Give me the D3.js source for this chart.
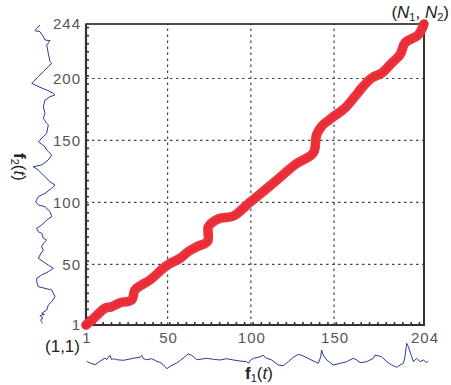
<!DOCTYPE html>
<html><head><meta charset="utf-8">
<script src="https://cdn.jsdelivr.net/npm/d3@7/dist/d3.min.js"></script>
<style>body{margin:0;background:#fff}svg{display:block}</style>
</head><body><svg id="c" width="451" height="385"></svg>
<script>
// Tick labels
const xTicks = [1, 50, 100, 150, 204];
const yTicks = [1, 50, 100, 150, 200, 244];
const xGrid = [50, 100, 150];
const yGrid = [50, 100, 150, 200];
// Warping path (i, j)
const warpPath = [[1,1],[5,5.5],[12.4,14.5],[16.4,15.8],[21.4,19],[28.4,21.2],[30.4,29.3],[34.4,33.3],[39.4,37.3],[47.4,46.8],[51.5,50.8],[57.5,54.8],[62.4,60.2],[67.5,64.2],[74,68.5],[74.5,80.4],[77.5,84.4],[81.5,87.1],[89.5,89],[99,99.6],[102.5,103.3],[108.5,110],[116.5,119],[126.5,130.4],[137.5,139.9],[139.5,154.6],[142.5,161.4],[148.5,168.1],[156.6,176.2],[162.6,185.6],[166.6,192.3],[172.6,200.4],[178.6,204.4],[184.6,212.5],[189.6,219.2],[192.6,228.7],[200.6,235.4],[204,244]];
// Signal f1(t): [t, value]
const f1 = [[1.4,0.14],[3.4,-0.2],[6.4,-0.54],[9.4,0.14],[12.4,0.8],[13.4,0.46],[15.4,1.34],[16.4,0.46],[17.4,0.66],[19.4,0.46],[23.4,0.34],[27.4,0.6],[30.4,0.8],[33.4,0.94],[34.5,1.34],[35.4,0.66],[37.5,0.46],[40.5,0.66],[43.5,0.14],[45.4,-0.06],[47.4,-0.54],[49.5,-1.34],[51.5,-0.86],[55.5,-0.2],[59.4,0.8],[62.4,1.6],[64.5,1.34],[67.5,0.46],[69.5,0.54],[73.5,0.74],[77.5,0.54],[81.5,0.4],[85.5,0.66],[89.5,0.4],[93.5,0.2],[97.5,0.06],[98.5,-0.26],[99.5,0.26],[101.5,0.74],[104.5,0.94],[107.5,1.34],[109.5,0.74],[112.5,0.4],[116.5,-0.6],[119.5,-0.74],[122.5,0.06],[125.5,0.94],[128.5,1.54],[131.5,1.2],[135.5,0.54],[138.5,0.06],[140.5,-0.26],[142,1.06],[142.5,2.4],[143.5,1.4],[145.6,0.4],[149.5,-0.6],[153.6,-0.26],[157.6,0.06],[161.5,0.74],[163.6,0.4],[165.6,-0.14],[169.6,0.06],[173.6,0.74],[174.6,1.4],[176.6,1.2],[178.6,1.06],[181.6,0.06],[184.6,-0.6],[187.6,-1.06],[189.6,-0.6],[191.6,-0.26],[192.6,1.06],[193.6,3.74],[194.6,3.06],[196.6,1.06],[197.6,0.06],[199.6,0.74],[201.6,0.06],[203.6,0.4],[205.6,-0.14],[206.6,0.2]];
// Signal f2(t): [t, value]
const f2 = [[243.2,-0.8],[240.5,-1.46],[238.6,-1.8],[237.8,-0.8],[233.7,-0.14],[231.1,0.2],[230.5,1.2],[227,0.54],[220.3,0.86],[213.6,1.2],[212.3,1.54],[209.5,0.86],[205.5,-0.14],[201.5,-1.14],[197.4,-2.14],[196.1,-2.46],[194.8,-1.8],[192.9,-0.8],[190.7,0.54],[188.1,1.86],[186.7,2.2],[185.3,1.2],[182.6,0.2],[177.2,-0.14],[171.9,0.2],[167.9,-0.14],[163.8,0.54],[162.5,0.86],[155.8,0.54],[149,-1.14],[144.9,0.2],[142.3,0.54],[138.2,1.54],[134.2,0.86],[130.2,-0.46],[128.8,-2.14],[126.1,-1.14],[120.7,0.2],[116.7,1.2],[114,2.2],[111.4,1.54],[107.3,0.2],[104.6,-1.14],[100.5,-1.66],[97.9,-1.14],[96.5,0.2],[92.5,1.2],[88.4,1.54],[85.8,0.54],[81.7,-0.46],[79.1,-1.46],[76.3,-1.14],[75,-0.46],[71,-0.14],[69.6,0.54],[67,-0.14],[64.2,-0.46],[61.5,-0.14],[57.5,-0.8],[54.8,-1.14],[52.1,-0.14],[49.4,0.86],[46.8,1.86],[44,0.86],[41.4,-0.46],[38.7,-1.46],[36,-1.46],[31.9,-1.14],[30.6,0.2],[29.3,1.54],[23.8,2.2],[19.8,1.54],[17.1,0.86],[13.1,0.54],[10.4,-0.46],[9.5,0.1],[8.6,-0.8],[7.7,-0.6],[6.5,-0.2],[5.2,-0.7],[3.7,-0.46],[2.4,-0.34]];

const svg = d3.select("#c");
const x = d3.scaleLinear().domain([1,204]).range([86,424]);
const y = d3.scaleLinear().domain([1,244]).range([325,24]);
const f1y = d3.scaleLinear().domain([0,1]).range([362,357]);
const f2x = d3.scaleLinear().domain([0,1]).range([44,49]);

// grid
svg.append("g").selectAll("line").data(yGrid).join("line")
  .attr("x1",x(1)).attr("x2",x(204)).attr("y1",d=>y(d)).attr("y2",d=>y(d))
  .attr("stroke","#444").attr("stroke-width",1.2).attr("stroke-dasharray","2.5,3.5");
svg.append("g").selectAll("line").data(xGrid).join("line")
  .attr("y1",y(1)).attr("y2",y(244)).attr("x1",d=>x(d)).attr("x2",d=>x(d))
  .attr("stroke","#444").attr("stroke-width",1.2).attr("stroke-dasharray","2.5,3.5");

// minor ticks
const yMinor = d3.range(1, 244, 6.5);
const xMinor = d3.range(1, 204, 5);
svg.append("g").attr("transform",`translate(${x(1)},0)`)
  .call(d3.axisRight(y).tickValues(yMinor).tickSize(3).tickFormat(""))
  .call(g=>{g.select(".domain").remove();g.selectAll("line").attr("stroke","#333").attr("stroke-width",1.6);});
svg.append("g").attr("transform",`translate(0,${y(1)})`)
  .call(d3.axisTop(x).tickValues(xMinor).tickSize(3).tickFormat(""))
  .call(g=>{g.select(".domain").remove();g.selectAll("line").attr("stroke","#333").attr("stroke-width",1.6);});

// frame
svg.append("line").attr("x1",x(1)).attr("x2",x(204)).attr("y1",y(244)).attr("y2",y(244)).attr("stroke","#111").attr("stroke-width",1.3);
svg.append("line").attr("x1",x(204)).attr("x2",x(204)).attr("y1",y(244)).attr("y2",y(1)).attr("stroke","#333").attr("stroke-width",2);
svg.append("line").attr("x1",x(1)).attr("x2",x(1)).attr("y1",y(244)-0.6).attr("y2",y(1)+1).attr("stroke","#333").attr("stroke-width",2.2);
svg.append("line").attr("x1",x(1)-1).attr("x2",x(204)+1).attr("y1",y(1)).attr("y2",y(1)).attr("stroke","#333").attr("stroke-width",2.2);

// axes labels
const fontStyle = g => g.selectAll("text").attr("font-family","Liberation Sans, Arial, sans-serif")
  .attr("font-size",15).attr("fill","#555").attr("letter-spacing","1px");
svg.append("g").attr("transform",`translate(${x(1)},0)`)
  .call(d3.axisLeft(y).tickValues(yTicks).tickSize(0).tickPadding(5))
  .call(g=>g.select(".domain").remove()).call(fontStyle);
svg.append("g").attr("transform",`translate(0,${y(1)})`)
  .call(d3.axisBottom(x).tickValues(xTicks).tickSize(0).tickPadding(7))
  .call(g=>g.select(".domain").remove()).call(fontStyle)
  .call(g=>g.selectAll("text").attr("dx","0.5px"));

// warping path
const line = d3.line().x(d=>x(d[0])).y(d=>y(d[1])).curve(d3.curveCatmullRom.alpha(0.5));
const wp = svg.append("path").datum(warpPath).attr("d",line).attr("fill","none")
  .attr("stroke","#e8222c").attr("stroke-width",9.5).attr("stroke-linecap","round").attr("stroke-linejoin","round");
// marker texture along the drawn path
const node = wp.node(), L = node.getTotalLength();
const pts = d3.range(0, L, 2.2).map(l => node.getPointAtLength(l));
svg.append("g").selectAll("circle").data(pts).join("circle")
  .attr("cx",d=>d.x).attr("cy",d=>d.y).attr("r",4.2)
  .attr("fill","none").attr("stroke","#f0555c").attr("stroke-width",0.5).attr("stroke-opacity",0.6);

// signals
svg.append("path").datum(f1).attr("fill","none").attr("stroke","#2a3a9e").attr("stroke-width",1)
  .attr("d", d3.line().x(d=>x(d[0])).y(d=>f1y(d[1])));
svg.append("path").datum(f2).attr("fill","none").attr("stroke","#2a3a9e").attr("stroke-width",1)
  .attr("d", d3.line().x(d=>f2x(d[1])).y(d=>y(d[0])));

// annotations
const lab = svg.append("g").attr("font-family","Liberation Sans, Arial, sans-serif").attr("fill","#222");
lab.append("text").attr("x",80).attr("y",352).attr("text-anchor","end").attr("font-size",17).text("(1,1)");
const nt = lab.append("text").attr("x",449).attr("y",18).attr("text-anchor","end").attr("font-size",17);
nt.append("tspan").text("(");
nt.append("tspan").attr("font-style","italic").text("N");
nt.append("tspan").attr("font-size",11).attr("dy",3).text("1");
nt.append("tspan").attr("dy",-3).text(", ");
nt.append("tspan").attr("font-style","italic").text("N");
nt.append("tspan").attr("font-size",11).attr("dy",3).text("2");
nt.append("tspan").attr("dy",-3).text(")");

const f1t = lab.append("text").attr("x",245).attr("y",379).attr("font-size",17);
f1t.append("tspan").attr("font-weight","bold").text("f");
f1t.append("tspan").attr("font-size",11).attr("dy",3).text("1");
f1t.append("tspan").attr("dy",-3).text("(");
f1t.append("tspan").attr("font-style","italic").text("t");
f1t.append("tspan").text(")");

const f2t = lab.append("text").attr("transform","translate(14,153) rotate(90)").attr("font-size",17);
f2t.append("tspan").attr("font-weight","bold").text("f");
f2t.append("tspan").attr("font-size",11).attr("dy",3).text("2");
f2t.append("tspan").attr("dy",-3).text("(");
f2t.append("tspan").attr("font-style","italic").text("t");
f2t.append("tspan").text(")");
</script></body></html>
